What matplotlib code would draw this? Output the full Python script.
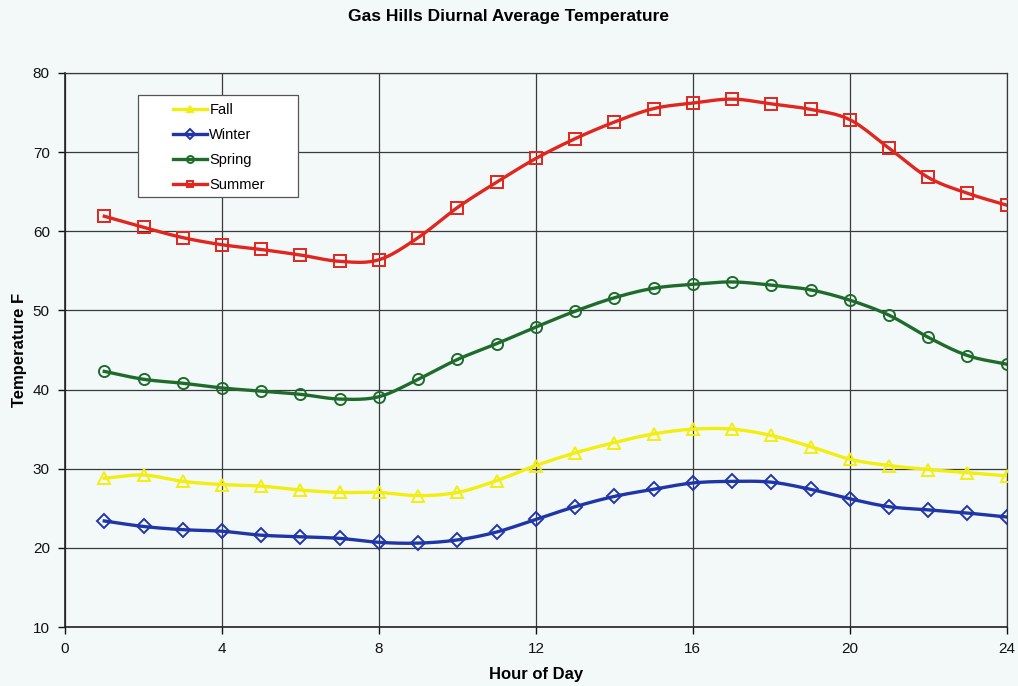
import numpy as np
import matplotlib
matplotlib.use("Agg")
from matplotlib import pyplot as plt
from matplotlib.patches import Rectangle

plt.rcParams['font.family'] = ['Liberation Sans', 'DejaVu Sans']

hours = [1, 2, 3, 4, 5, 6, 7, 8, 9, 10, 11, 12,
         13, 14, 15, 16, 17, 18, 19, 20, 21, 22, 23, 24]

fall = [28.8, 29.2, 28.4, 28.0, 27.8, 27.3, 27.0, 27.0, 26.6, 27.0, 28.5, 30.4,
        32.0, 33.3, 34.4, 35.0, 35.0, 34.2, 32.8, 31.2, 30.4, 29.9, 29.5, 29.1]
winter = [23.4, 22.7, 22.3, 22.1, 21.6, 21.4, 21.2, 20.7, 20.6, 21.0, 22.0, 23.6,
          25.2, 26.5, 27.4, 28.2, 28.4, 28.3, 27.4, 26.2, 25.2, 24.8, 24.4, 23.9]
spring = [42.3, 41.3, 40.8, 40.2, 39.8, 39.4, 38.8, 39.1, 41.3, 43.8, 45.8, 47.9,
          49.9, 51.6, 52.8, 53.3, 53.6, 53.2, 52.6, 51.3, 49.4, 46.6, 44.3, 43.2]
summer = [61.9, 60.5, 59.2, 58.3, 57.7, 57.0, 56.2, 56.4, 59.2, 63.0, 66.2, 69.2,
          71.7, 73.8, 75.5, 76.2, 76.7, 76.1, 75.4, 74.1, 70.5, 66.8, 64.8, 63.3]

x_ticks = [0, 4, 8, 12, 16, 20, 24]
y_ticks = [10, 20, 30, 40, 50, 60, 70, 80]


def smooth_path(x, y, steps=12):
    """ Catmull-Rom curve through the points, like a spreadsheet smoothed line """
    x = np.asarray(x, float)
    y = np.asarray(y, float)
    px = np.concatenate([[2 * x[0] - x[1]], x, [2 * x[-1] - x[-2]]])
    py = np.concatenate([[2 * y[0] - y[1]], y, [2 * y[-1] - y[-2]]])
    t = np.linspace(0, 1, steps, endpoint=False)
    xs, ys = [], []
    for i in range(1, len(px) - 2):
        for p, out in ((px, xs), (py, ys)):
            p0, p1, p2, p3 = p[i - 1], p[i], p[i + 1], p[i + 2]
            out.extend(0.5 * (2 * p1 + (-p0 + p2) * t
                              + (2 * p0 - 5 * p1 + 4 * p2 - p3) * t ** 2
                              + (-p0 + 3 * p1 - 3 * p2 + p3) * t ** 3))
    xs.append(x[-1])
    ys.append(y[-1])
    return xs, ys


bg = '#f3f9f9'
fig = plt.figure(figsize=(10.18, 6.86), dpi=100, facecolor=bg)
ax = fig.add_axes([0.0639, 0.086, 0.925, 0.8076])
ax.set_facecolor(bg)

series = [
    ('Fall', fall, '#f2ee10', '^'),
    ('Winter', winter, '#1f35a8', 'D'),
    ('Spring', spring, '#1f6b2c', 'o'),
    ('Summer', summer, '#e0261e', 's'),
]

for name, vals, color, marker in series:
    sx, sy = smooth_path(hours, vals)
    ax.plot(sx, sy, color=color, lw=2.4, zorder=3)
    ax.plot(hours, vals, linestyle='none', marker=marker, ms=8 if marker != 'D' else 7,
            mfc='none', mec=color, mew=1.4, zorder=4)
    # legend proxy
    ax.plot([], [], color=color, lw=2.4, marker=marker, ms=5,
            mfc='none', mec=color, mew=1.4, label=name)

ax.set_xlim(0, 24)
ax.set_ylim(10, 80)
ax.set_xticks(x_ticks)
ax.set_yticks(y_ticks)
ax.grid(True, color='#3a3a3a', lw=0.9)
ax.set_axisbelow(True)
for side in ['left', 'bottom']:
    ax.spines[side].set_linewidth(1.2)
    ax.spines[side].set_color('#222222')
for side in ['top', 'right']:
    ax.spines[side].set_linewidth(0.9)
    ax.spines[side].set_color('#3a3a3a')
ax.tick_params(direction='out', length=5, width=1, labelsize=11, pad=6, colors='#111111')

ax.set_xlabel('Hour of Day', fontsize=12, fontweight='bold', labelpad=8)
ax.set_ylabel('Temperature F', fontsize=12, fontweight='bold', labelpad=4)
fig.suptitle('Gas Hills Diurnal Average Temperature', fontsize=12.5, fontweight='bold', y=0.987)

# legend box drawn by hand so the padding can be wider than tall
ax.add_patch(Rectangle((0.0775, 0.776), 0.170, 0.184, transform=ax.transAxes,
                       facecolor='white', edgecolor='#555555', lw=0.9, zorder=5))
leg = ax.legend(loc='upper left', bbox_to_anchor=(0.1146, 0.946), fontsize=10.5,
                frameon=False, borderpad=0, labelspacing=0.75,
                handlelength=2.3, handletextpad=0.2, borderaxespad=0)
leg.set_zorder(6)

fig.savefig('out.png', dpi=100, facecolor=bg)
